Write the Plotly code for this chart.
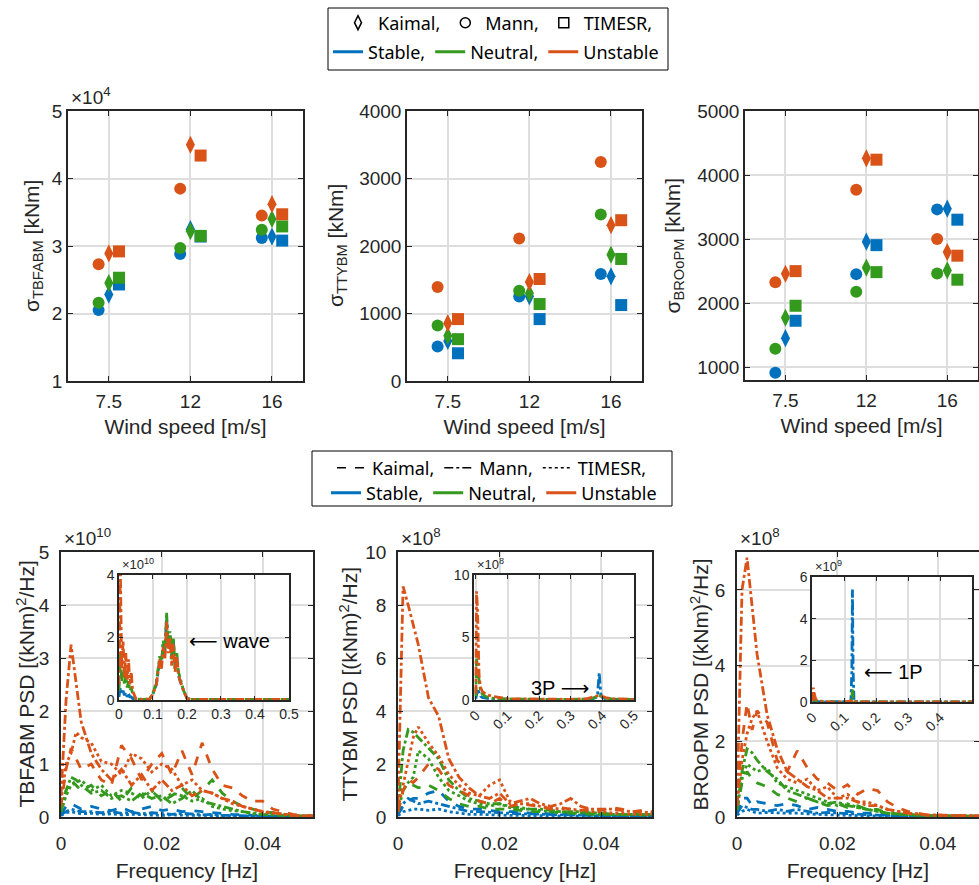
import plotly.graph_objects as go

W, H = 979, 885

# ---- data: standard deviations (top row) ----
wind_labels = ['7.5', '12', '16']
models = ['Kaimal', 'Mann', 'TIMESR']
conditions = ['Stable', 'Neutral', 'Unstable']
colors = {'Stable': '#0072BD', 'Neutral': '#349A1E', 'Unstable': '#D95319'}

# TBFABM [x1e4 kNm], per condition -> per model -> per wind speed
tbfabm_std = {
    'Stable':   {'Kaimal': [2.28, 3.25, 3.14], 'Mann': [2.05, 2.88, 3.12], 'TIMESR': [2.43, 3.14, 3.08]},
    'Neutral':  {'Kaimal': [2.45, 3.22, 3.40], 'Mann': [2.16, 2.97, 3.24], 'TIMESR': [2.53, 3.15, 3.29]},
    'Unstable': {'Kaimal': [2.89, 4.50, 3.62], 'Mann': [2.73, 3.85, 3.45], 'TIMESR': [2.92, 4.34, 3.47]},
}
# TTYBM [kNm]
ttybm_std = {
    'Stable':   {'Kaimal': [594, 1255, 1550], 'Mann': [510, 1253, 1585], 'TIMESR': [411, 917, 1125]},
    'Neutral':  {'Kaimal': [669, 1300, 1872], 'Mann': [822, 1337, 2467], 'TIMESR': [620, 1140, 1808]},
    'Unstable': {'Kaimal': [857, 1466, 2308], 'Mann': [1392, 2110, 3244], 'TIMESR': [917, 1511, 2382]},
}
# BROoPM [kNm]
broopm_std = {
    'Stable':   {'Kaimal': [1453, 2959, 3475], 'Mann': [912, 2453, 3464], 'TIMESR': [1725, 2906, 3303]},
    'Neutral':  {'Kaimal': [1772, 2553, 2511], 'Mann': [1287, 2178, 2464], 'TIMESR': [1959, 2484, 2366]},
    'Unstable': {'Kaimal': [2459, 4261, 2797], 'Mann': [2328, 3772, 3000], 'TIMESR': [2500, 4240, 2741]},
}

# ---- data: PSD (bottom row), main panels 0-0.05 Hz ----
freq = [0, 0.001, 0.002, 0.003, 0.004, 0.006, 0.008, 0.010, 0.012, 0.014, 0.016, 0.018, 0.020, 0.022,
        0.024, 0.026, 0.028, 0.030, 0.032, 0.034, 0.036, 0.038, 0.040, 0.042, 0.044, 0.046, 0.048, 0.050]

# TBFABM PSD [x1e10]
tbfabm_psd = {
    'Stable': {
        'Kaimal': [0.05, 0.2, 0.25, 0.2, 0.15, 0.2, 0.15, 0.12, 0.18, 0.1, 0.15, 0.2, 0.12, 0.15, 0.1, 0.12, 0.1, 0.08, 0.06, 0.05, 0.04, 0.03, 0.02, 0.02, 0.01, 0.01, 0.01, 0.01],
        'Mann':   [0.05, 0.1, 0.15, 0.12, 0.1, 0.1, 0.08, 0.1, 0.07, 0.09, 0.06, 0.08, 0.06, 0.05, 0.07, 0.05, 0.04, 0.05, 0.03, 0.03, 0.02, 0.02, 0.01, 0.01, 0.01, 0.01, 0.01, 0.01],
        'TIMESR': [0.03, 0.08, 0.1, 0.08, 0.06, 0.07, 0.05, 0.06, 0.04, 0.05, 0.04, 0.04, 0.03, 0.04, 0.03, 0.03, 0.03, 0.02, 0.02, 0.02, 0.01, 0.01, 0.01, 0.01, 0.01, 0.01, 0.01, 0.01],
    },
    'Neutral': {
        'Kaimal': [0.1, 0.5, 0.7, 0.6, 0.5, 0.6, 0.4, 0.5, 0.3, 0.55, 0.4, 0.5, 0.3, 0.4, 0.55, 0.35, 0.5, 0.7, 0.45, 0.3, 0.2, 0.15, 0.1, 0.08, 0.05, 0.03, 0.02, 0.02],
        'Mann':   [0.1, 0.5, 0.75, 0.7, 0.6, 0.45, 0.5, 0.35, 0.4, 0.3, 0.45, 0.35, 0.4, 0.25, 0.35, 0.5, 0.3, 0.25, 0.2, 0.15, 0.1, 0.08, 0.05, 0.04, 0.03, 0.02, 0.01, 0.01],
        'TIMESR': [0.1, 0.4, 0.6, 0.65, 0.7, 0.5, 0.6, 0.4, 0.5, 0.45, 0.35, 0.5, 0.3, 0.45, 0.4, 0.3, 0.35, 0.2, 0.15, 0.12, 0.1, 0.06, 0.05, 0.04, 0.03, 0.02, 0.01, 0.01],
    },
    'Unstable': {
        'Kaimal': [0.2, 0.9, 1.3, 1.1, 0.9, 1.0, 0.7, 0.6, 1.35, 1.1, 0.7, 1.0, 1.2, 0.8, 1.25, 0.8, 1.4, 0.9, 0.6, 0.55, 0.4, 0.3, 0.3, 0.15, 0.1, 0.05, 0.03, 0.02],
        'Mann':   [0.4, 2.2, 3.25, 2.5, 1.8, 1.2, 0.9, 0.7, 0.9, 0.6, 0.8, 0.5, 0.7, 0.5, 0.6, 0.4, 0.5, 0.45, 0.35, 0.3, 0.2, 0.15, 0.1, 0.08, 0.05, 0.03, 0.02, 0.02],
        'TIMESR': [0.3, 1.0, 1.2, 1.6, 1.5, 1.4, 1.05, 1.0, 0.8, 1.2, 1.1, 0.85, 1.0, 0.9, 0.6, 0.7, 0.5, 0.45, 0.35, 0.25, 0.2, 0.15, 0.1, 0.08, 0.05, 0.03, 0.02, 0.02],
    },
}
# TTYBM PSD [x1e8]
ttybm_psd = {
    'Stable': {
        'Kaimal': [0.1, 0.4, 0.6, 0.7, 0.7, 0.9, 1.0, 0.6, 0.4, 0.3, 0.3, 0.25, 0.2, 0.2, 0.2, 0.15, 0.15, 0.12, 0.1, 0.1, 0.1, 0.08, 0.08, 0.06, 0.06, 0.05, 0.05, 0.05],
        'Mann':   [0.1, 0.5, 0.7, 0.6, 0.5, 0.6, 0.5, 0.4, 0.3, 0.2, 0.2, 0.18, 0.15, 0.15, 0.12, 0.12, 0.1, 0.1, 0.08, 0.08, 0.06, 0.06, 0.05, 0.05, 0.04, 0.04, 0.04, 0.03],
        'TIMESR': [0.05, 0.2, 0.25, 0.3, 0.3, 0.25, 0.3, 0.2, 0.15, 0.1, 0.1, 0.08, 0.08, 0.06, 0.06, 0.05, 0.05, 0.04, 0.04, 0.03, 0.03, 0.03, 0.03, 0.02, 0.02, 0.02, 0.02, 0.02],
    },
    'Neutral': {
        'Kaimal': [0.2, 1.0, 1.3, 1.2, 1.1, 1.2, 1.0, 0.7, 0.5, 0.4, 0.4, 0.3, 0.3, 0.3, 0.25, 0.2, 0.2, 0.2, 0.15, 0.15, 0.12, 0.12, 0.1, 0.1, 0.1, 0.08, 0.08, 0.08],
        'Mann':   [0.3, 2.5, 3.3, 3.2, 3.0, 2.6, 2.2, 1.4, 1.0, 0.7, 0.6, 0.5, 0.5, 0.4, 0.35, 0.3, 0.3, 0.25, 0.2, 0.2, 0.2, 0.15, 0.15, 0.1, 0.1, 0.1, 0.1, 0.1],
        'TIMESR': [0.2, 1.0, 1.3, 1.5, 2.5, 2.2, 1.5, 1.0, 0.8, 0.6, 0.5, 0.4, 0.5, 0.35, 0.3, 0.3, 0.25, 0.2, 0.2, 0.15, 0.15, 0.1, 0.1, 0.1, 0.08, 0.08, 0.08, 0.08],
    },
    'Unstable': {
        'Kaimal': [0.2, 1.0, 1.4, 1.3, 1.5, 2.0, 1.8, 1.2, 1.0, 0.8, 0.6, 0.5, 0.7, 0.4, 0.5, 0.45, 0.4, 0.3, 0.35, 0.3, 0.25, 0.3, 0.25, 0.35, 0.3, 0.2, 0.25, 0.2],
        'Mann':   [0.5, 8.7, 8.0, 7.3, 6.5, 4.5, 3.8, 2.2, 1.5, 1.1, 0.8, 0.7, 0.9, 0.5, 0.6, 0.7, 0.5, 0.4, 0.5, 0.7, 0.4, 0.3, 0.3, 0.3, 0.25, 0.2, 0.2, 0.15],
        'TIMESR': [0.3, 1.2, 2.0, 3.0, 3.4, 2.8, 2.3, 1.6, 1.2, 0.9, 0.8, 1.2, 1.4, 0.6, 0.5, 0.5, 0.4, 0.35, 0.3, 0.3, 0.25, 0.2, 0.2, 0.15, 0.15, 0.1, 0.1, 0.1],
    },
}
# BROoPM PSD [x1e8]
broopm_psd = {
    'Stable': {
        'Kaimal': [0.1, 0.5, 0.5, 0.3, 0.4, 0.35, 0.3, 0.35, 0.3, 0.2, 0.25, 0.2, 0.15, 0.15, 0.1, 0.1, 0.1, 0.05, 0.05, 0.04, 0.03, 0.03, 0.02, 0.02, 0.02, 0.02, 0.02, 0.02],
        'Mann':   [0.1, 0.3, 0.25, 0.2, 0.2, 0.15, 0.2, 0.15, 0.2, 0.15, 0.1, 0.12, 0.1, 0.08, 0.08, 0.06, 0.05, 0.04, 0.03, 0.03, 0.02, 0.02, 0.02, 0.02, 0.01, 0.01, 0.01, 0.01],
        'TIMESR': [0.05, 0.15, 0.2, 0.15, 0.1, 0.12, 0.1, 0.1, 0.1, 0.08, 0.07, 0.06, 0.05, 0.05, 0.04, 0.03, 0.03, 0.02, 0.02, 0.02, 0.01, 0.01, 0.01, 0.01, 0.01, 0.01, 0.01, 0.01],
    },
    'Neutral': {
        'Kaimal': [0.2, 0.9, 1.2, 1.0, 0.9, 0.8, 0.6, 0.5, 0.4, 0.5, 0.4, 0.3, 0.35, 0.25, 0.3, 0.2, 0.2, 0.1, 0.08, 0.06, 0.05, 0.04, 0.03, 0.03, 0.02, 0.02, 0.02, 0.02],
        'Mann':   [0.2, 1.2, 1.8, 1.7, 1.5, 1.2, 1.0, 0.7, 0.6, 0.5, 0.4, 0.35, 0.4, 0.3, 0.25, 0.2, 0.15, 0.1, 0.08, 0.06, 0.05, 0.04, 0.03, 0.03, 0.02, 0.02, 0.02, 0.02],
        'TIMESR': [0.2, 1.0, 1.4, 1.3, 1.2, 1.3, 0.9, 0.8, 0.7, 0.6, 0.5, 0.4, 0.3, 0.35, 0.25, 0.2, 0.15, 0.1, 0.08, 0.06, 0.05, 0.04, 0.03, 0.03, 0.02, 0.02, 0.02, 0.02],
    },
    'Unstable': {
        'Kaimal': [0.3, 2.0, 3.0, 2.3, 2.8, 2.5, 1.5, 1.2, 1.75, 1.3, 1.0, 0.9, 0.7, 0.85, 0.6, 0.75, 0.7, 0.4, 0.25, 0.15, 0.1, 0.05, 0.05, 0.04, 0.03, 0.03, 0.02, 0.02],
        'Mann':   [0.3, 6.0, 6.85, 5.5, 4.3, 2.7, 1.8, 1.2, 1.0, 0.8, 0.7, 0.5, 0.5, 0.5, 0.4, 0.3, 0.3, 0.2, 0.15, 0.1, 0.08, 0.05, 0.05, 0.04, 0.03, 0.02, 0.02, 0.02],
        'TIMESR': [0.3, 1.5, 2.2, 2.6, 2.8, 2.0, 1.3, 1.0, 0.9, 1.0, 0.7, 0.8, 0.5, 0.6, 0.4, 0.4, 0.3, 0.2, 0.15, 0.1, 0.08, 0.05, 0.05, 0.04, 0.03, 0.02, 0.02, 0.02],
    },
}

# ---- data: insets, 0-0.5 Hz ----
inset1_freq = [0, 0.004, 0.008, 0.012, 0.016, 0.02, 0.024, 0.028, 0.032, 0.036, 0.04, 0.045, 0.05, 0.07, 0.09,
               0.1, 0.11, 0.115, 0.12, 0.125, 0.13, 0.135, 0.14, 0.145, 0.15, 0.155, 0.16, 0.165, 0.17, 0.175,
               0.18, 0.19, 0.2, 0.21, 0.3, 0.4, 0.5]
inset1_psd = {  # x1e10
    'Stable':   [0.1, 0.4, 0.2, 0.3, 0.15, 0.25, 0.1, 0.2, 0.1, 0.1, 0.05, 0.03, 0.02, 0.02, 0.03, 0.2, 0.5, 0.9, 1.3, 1.2, 1.8, 1.6, 2.6, 1.8, 2.1, 1.4, 1.9, 1.1, 1.4, 0.8, 0.6, 0.3, 0.05, 0.02, 0.02, 0.02, 0.02],
    'Neutral':  [0.3, 1.5, 0.6, 0.9, 0.5, 0.8, 0.4, 0.6, 0.3, 0.4, 0.2, 0.1, 0.03, 0.02, 0.03, 0.2, 0.6, 1.0, 1.4, 1.1, 1.9, 1.5, 2.8, 1.7, 2.2, 1.3, 2.0, 1.0, 1.5, 0.9, 0.7, 0.3, 0.05, 0.02, 0.02, 0.02, 0.02],
    'Unstable': [0.5, 4.2, 1.0, 1.9, 0.7, 1.5, 0.6, 1.3, 0.5, 0.9, 0.3, 0.15, 0.03, 0.02, 0.03, 0.2, 0.5, 0.9, 1.3, 1.0, 1.7, 1.3, 2.5, 1.5, 2.0, 1.1, 1.8, 0.9, 1.4, 0.8, 0.6, 0.3, 0.05, 0.02, 0.02, 0.02, 0.02],
}
inset2_freq = [0, 0.002, 0.005, 0.01, 0.015, 0.02, 0.03, 0.04, 0.05, 0.1, 0.2, 0.3, 0.35, 0.37, 0.38,
               0.385, 0.39, 0.395, 0.4, 0.41, 0.43, 0.5]
inset2_psd = {  # x1e8
    'Stable':   [0.1, 0.7, 0.9, 0.6, 0.3, 0.2, 0.15, 0.1, 0.08, 0.05, 0.03, 0.03, 0.05, 0.1, 0.2, 0.5, 2.2, 0.5, 0.2, 0.1, 0.05, 0.03],
    'Neutral':  [0.3, 3.3, 2.6, 1.5, 0.6, 0.5, 0.3, 0.2, 0.15, 0.08, 0.04, 0.04, 0.08, 0.15, 0.25, 0.3, 0.35, 0.3, 0.25, 0.15, 0.08, 0.04],
    'Unstable': [0.5, 8.7, 7.3, 2.0, 1.0, 0.7, 0.5, 0.4, 0.3, 0.1, 0.05, 0.05, 0.1, 0.2, 0.3, 0.35, 0.4, 0.35, 0.3, 0.2, 0.1, 0.05],
}
inset3_freq = [0, 0.002, 0.005, 0.01, 0.02, 0.03, 0.05, 0.1, 0.12, 0.123, 0.125, 0.127, 0.13, 0.15, 0.2, 0.3, 0.4, 0.5]
inset3_psd = {  # x1e9
    'Stable':   [0.01, 0.05, 0.06, 0.03, 0.01, 0.01, 0.01, 0.01, 0.02, 1.5, 5.4, 1.5, 0.02, 0.01, 0.01, 0.01, 0.01, 0.01],
    'Neutral':  [0.02, 0.18, 0.15, 0.07, 0.03, 0.02, 0.01, 0.01, 0.02, 0.2, 0.6, 0.2, 0.02, 0.01, 0.01, 0.01, 0.01, 0.01],
    'Unstable': [0.05, 0.69, 0.4, 0.12, 0.05, 0.03, 0.01, 0.01, 0.02, 0.05, 0.1, 0.05, 0.02, 0.01, 0.01, 0.01, 0.01, 0.01],
}

symbols = {'Kaimal': 'diamond-tall', 'Mann': 'circle', 'TIMESR': 'square'}
offsets = {'Kaimal': 0.0, 'Mann': -0.125, 'TIMESR': 0.125}
dashes = {'Kaimal': 'dash', 'Mann': 'dashdot', 'TIMESR': 'dot'}

FONT = 'Liberation Sans'
INK = '#262626'
TICK = dict(family=FONT, size=19, color=INK)
TITLE = dict(family=FONT, size=21, color=INK)


def xdom(a, b):
    return [a / W, b / W]


def ydom(top, bottom):
    return [1 - bottom / H, 1 - top / H]


# pixel boxes (left, right, top, bottom)
boxes = {
    1: (68, 303, 111, 381), 2: (407, 642, 111, 381), 3: (745, 978, 111, 380),
    4: (61, 313, 552, 817), 5: (398, 652, 552, 817), 6: (737, 979, 552, 817),
    7: (119, 289, 575, 700), 8: (474, 634, 575, 700), 9: (812, 972, 577, 702),
}
# horizontal centre (px) of each main panel's y-axis title
ytitle_x = {1: 33, 2: 337, 3: 673, 4: 25, 5: 348, 6: 699}

fig = go.Figure()

base_axis = dict(showline=True, linecolor=INK, linewidth=1.5, mirror='ticks', ticks='inside',
                 ticklen=5, tickcolor=INK, tickwidth=1, showgrid=True, gridcolor='#DEDEDE',
                 gridwidth=1.5, zeroline=False, tickfont=TICK)

layout_axes = {}
for i, (l, r, t, b) in boxes.items():
    sx = '' if i == 1 else str(i)
    layout_axes['xaxis' + sx] = dict(base_axis, domain=xdom(l, r), anchor='y' + sx)
    layout_axes['yaxis' + sx] = dict(base_axis, domain=ydom(t, b), anchor='x' + sx)

annotations = []


def ytitle(idx, text):
    l, r, t, b = boxes[idx]
    annotations.append(dict(text=text, xref='paper', yref='paper', x=ytitle_x[idx] / W,
                            y=1 - (t + b) / 2 / H, textangle=-90, xanchor='center', yanchor='middle',
                            showarrow=False, font=TITLE))


# top row: std scatter
top_sets = [(1, tbfabm_std, [1, 5], 'σ<sub>TBFABM</sub> [kNm]', [1, 2, 3, 4, 5]),
            (2, ttybm_std, [0, 4000], 'σ<sub>TTYBM</sub> [kNm]', [0, 1000, 2000, 3000, 4000]),
            (3, broopm_std, [800, 5000], 'σ<sub>BROoPM</sub> [kNm]', [1000, 2000, 3000, 4000, 5000])]
for idx, data, yr, ytext, yt in top_sets:
    sx = '' if idx == 1 else str(idx)
    for cond in conditions:
        for m in ['Mann', 'Kaimal', 'TIMESR']:
            fig.add_trace(go.Scatter(
                x=[k + 1 + offsets[m] for k in range(len(wind_labels))],
                y=data[cond][m], mode='markers', showlegend=False,
                marker=dict(symbol=symbols[m], color=colors[cond], size=12 if m != 'Kaimal' else 13,
                            line=dict(width=0)),
                xaxis='x' + sx, yaxis='y' + sx))
    layout_axes['xaxis' + sx].update(range=[0.5, 3.38], tickvals=[1, 2, 3], ticktext=wind_labels,
                                     ticklabelstandoff=2,
                                     title=dict(text='Wind speed [m/s]', font=TITLE, standoff=9))
    layout_axes['yaxis' + sx].update(range=yr, tickvals=yt, ticklabelstandoff=0)
    ytitle(idx, ytext)

# bottom row: PSD lines
bottom_sets = [(4, tbfabm_psd, [0, 5], 'TBFABM PSD [(kNm)<sup>2</sup>/Hz]', [0, 1, 2, 3, 4, 5], [0, 0.05]),
               (5, ttybm_psd, [0, 10], 'TTYBM PSD [(kNm)<sup>2</sup>/Hz]', [0, 2, 4, 6, 8, 10], [0, 0.05]),
               (6, broopm_psd, [0, 7], 'BROoPM PSD [(kNm)<sup>2</sup>/Hz]', [0, 2, 4, 6], [0, 0.0482])]
for idx, data, yr, ytext, yt, xr in bottom_sets:
    sx = str(idx)
    for cond in conditions:
        for m in models:
            fig.add_trace(go.Scatter(
                x=freq, y=data[cond][m], mode='lines', showlegend=False,
                line=dict(color=colors[cond], dash=dashes[m], width=2.8),
                xaxis='x' + sx, yaxis='y' + sx))
    layout_axes['xaxis' + sx].update(range=xr, tickvals=[0, 0.02, 0.04], ticktext=['0', '0.02', '0.04'],
                                     ticklabelstandoff=8,
                                     title=dict(text='Frequency [Hz]', font=TITLE, standoff=11))
    layout_axes['yaxis' + sx].update(range=yr, tickvals=yt, ticklabelstandoff=6)
    ytitle(idx, ytext)

# insets
inset_sets = [(7, inset1_freq, inset1_psd, [0, 4], [0, 2, 4], [0, 0.5001], 0),
              (8, inset2_freq, inset2_psd, [0, 10], [0, 5, 10], [-0.006, 0.5001], -45),
              (9, inset3_freq, inset3_psd, [0, 6], [0, 2, 4, 6], [-0.002, 0.5001], -45)]
small = dict(family=FONT, size=14, color=INK)
for idx, fx, data, yr, yt, xr, ang in inset_sets:
    sx = str(idx)
    for cond in conditions:
        fig.add_trace(go.Scatter(
            x=fx, y=data[cond], mode='lines', showlegend=False,
            line=dict(color=colors[cond], dash='dashdot', width=2.8),
            xaxis='x' + sx, yaxis='y' + sx))
    layout_axes['xaxis' + sx].update(range=xr, tickvals=[0, 0.1, 0.2, 0.3, 0.4, 0.5],
                                     ticktext=['0', '0.1', '0.2', '0.3', '0.4', '0.5'],
                                     tickangle=ang, tickfont=small, ticklen=4)
    layout_axes['yaxis' + sx].update(range=yr, tickvals=yt, tickfont=small, ticklen=4)

# legend entries
leg_font = dict(family='Noto Sans', size=18, color='black')
for m in models:
    fig.add_trace(go.Scatter(x=[None], y=[None], mode='markers', name=m + ',', legend='legend',
                             marker=dict(symbol=symbols[m] + '-open', color='black', size=10,
                                         line=dict(width=1.5, color='black'))))
for i, c in enumerate(conditions):
    fig.add_trace(go.Scatter(x=[None], y=[None], mode='lines', name=c + (',' if i < 2 else ''),
                             legend='legend2', line=dict(color=colors[c], width=3)))
for m in models:
    fig.add_trace(go.Scatter(x=[None], y=[None], mode='lines', name=m + ',', legend='legend3',
                             line=dict(color='black', dash=dashes[m], width=1.5)))
for i, c in enumerate(conditions):
    fig.add_trace(go.Scatter(x=[None], y=[None], mode='lines', name=c + (',' if i < 2 else ''),
                             legend='legend4', line=dict(color=colors[c], width=3)))


def leg(xc, yc):
    return dict(orientation='h', x=xc / W, y=1 - yc / H, xanchor='center', yanchor='middle',
                font=leg_font, bgcolor='rgba(0,0,0,0)', itemwidth=30, tracegroupgap=0)


exp_labels = [(1, '×10<sup>4</sup>', 19), (4, '×10<sup>10</sup>', 19), (5, '×10<sup>8</sup>', 19),
              (6, '×10<sup>8</sup>', 19), (7, '×10<sup>10</sup>', 13), (8, '×10<sup>8</sup>', 13),
              (9, '×10<sup>9</sup>', 13)]
for idx, txt, fs in exp_labels:
    l, r, t, b = boxes[idx]
    annotations.append(dict(text=txt, xref='paper', yref='paper', x=(l + 1) / W, y=1 - (t - 1) / H,
                            xanchor='left', yanchor='bottom', showarrow=False,
                            font=dict(family=FONT, size=fs, color=INK)))

ARROW_L = '<span style="font-family:DejaVu Sans">⟵</span>'
ARROW_R = '<span style="font-family:DejaVu Sans">⟶</span>'
annotations += [
    dict(text=ARROW_L + ' wave', xref='x7', yref='y7', x=0.2, y=1.9, xanchor='left', yanchor='middle',
         showarrow=False, font=dict(family=FONT, size=20, color='black')),
    dict(text='3P ' + ARROW_R, xref='x8', yref='y8', x=0.365, y=1.0, xanchor='right', yanchor='middle',
         showarrow=False, font=dict(family=FONT, size=20, color='black')),
    dict(text=ARROW_L + ' 1P', xref='x9', yref='y9', x=0.155, y=1.45, xanchor='left', yanchor='middle',
         showarrow=False, font=dict(family=FONT, size=20, color='black')),
]

shapes = [
    dict(type='rect', xref='paper', yref='paper', x0=328 / W, x1=668 / W, y0=1 - 70 / H, y1=1 - 8 / H,
         line=dict(color='black', width=1)),
    dict(type='rect', xref='paper', yref='paper', x0=312 / W, x1=672 / W, y0=1 - 506 / H, y1=1 - 451 / H,
         line=dict(color='black', width=1)),
]

fig.update_layout(
    width=W, height=H, template='none',
    margin=dict(l=0, r=0, t=0, b=0),
    paper_bgcolor='white', plot_bgcolor='white',
    legend=leg(498, 23), legend2=leg(496, 52),
    legend3=leg(492, 468), legend4=leg(494, 493),
    annotations=annotations, shapes=shapes,
    **layout_axes,
)

fig.write_html("out.html", config={'displayModeBar': False},
               post_script="document.body.style.margin='0';document.body.style.overflow='hidden';")
